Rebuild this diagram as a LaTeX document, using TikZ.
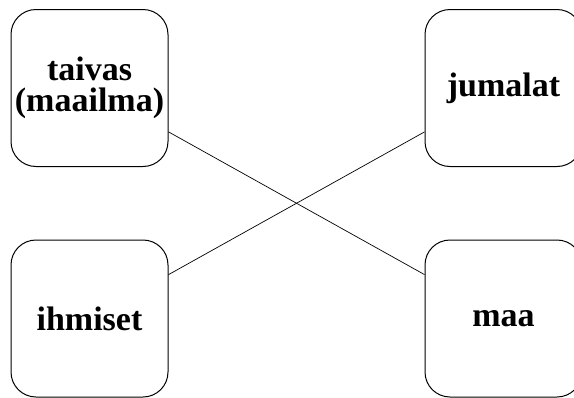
\documentclass[tikz,border=0pt]{standalone}
\usepackage{fontspec}
\setmainfont{Liberation Serif}
\usepackage{tikz}
\usetikzlibrary{positioning}

\begin{document}
\begin{tikzpicture}[x=1pt,y=-1pt]
  \tikzset{Laatikko/.style={draw,line width=1pt,rounded corners=25pt,
      minimum width=157pt,minimum height=157pt,align=center,
      font=\fontsize{34}{31}\selectfont\bfseries}}
  \useasboundingbox (0,0) rectangle (574,397);

  % laatikot
  \node[Laatikko] (taivas) at (89.5,88) {taivas\\(maailma)};
  \node[Laatikko] (jumalat) at (503.5,88) {jumalat};
  \node[Laatikko] (ihmiset) at (89.5,318.5) {ihmiset};
  \node[Laatikko] (maa) at (503.5,318.5) {maa};

  % viivat
  \path (taivas) edge [line width=0.7pt] (maa);
  \path (ihmiset) edge [line width=0.7pt] (jumalat);

\end{tikzpicture}
\end{document}
